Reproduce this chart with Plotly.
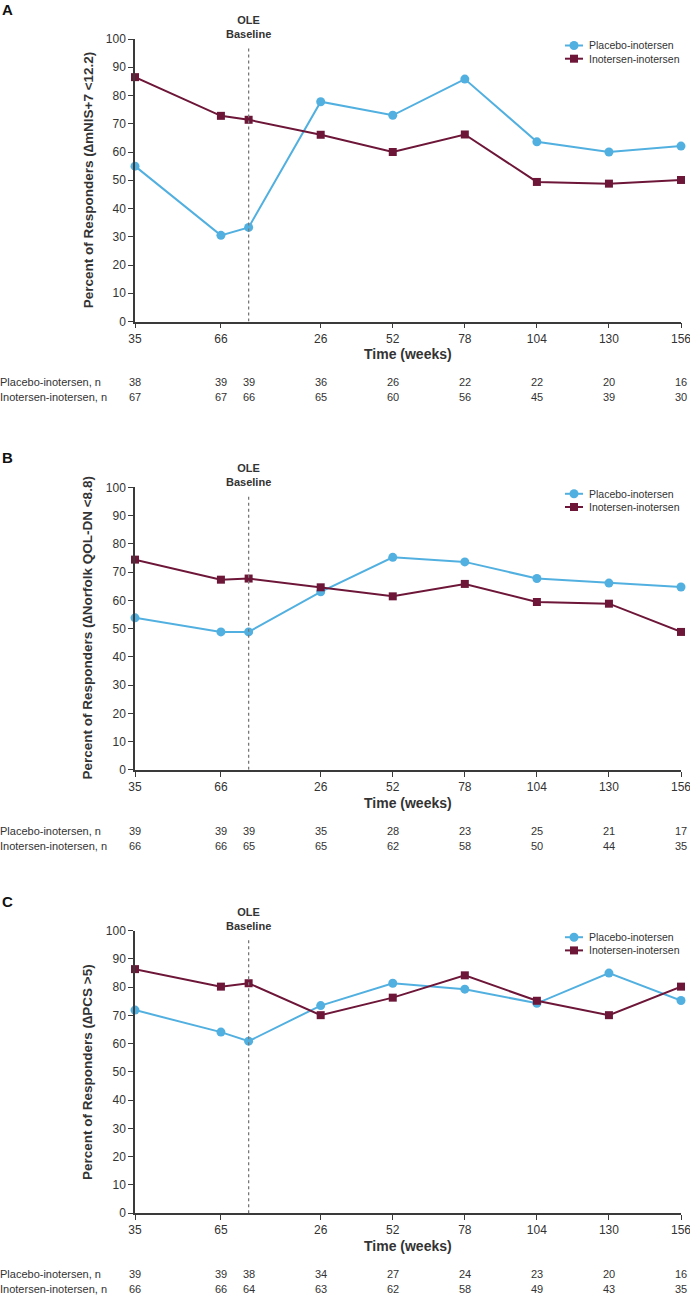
import plotly.graph_objects as go

W, H = 690, 1295
FONT = "Liberation Sans, Arial, sans-serif"
BLUE = "#52B0E0"
MAROON = "#6D1638"
AXIS = "#3a3a3a"
TXT = "#333333"

# ---------------- data ----------------
pivotal_weeks = [35, 66]
ole_weeks = [0, 26, 52, 78, 104, 130, 156]
OLE_OFFSET = 76  # OLE baseline placed after pivotal week 66 on a common time scale
x_time = pivotal_weeks + [OLE_OFFSET + w for w in ole_weeks]

tick_labels_A = ["35", "66", "", "26", "52", "78", "104", "130", "156"]
tick_labels_B = ["35", "66", "", "26", "52", "78", "104", "130", "156"]
tick_labels_C = ["35", "65", "", "26", "52", "78", "104", "130", "156"]

placebo_A = [55.0, 30.5, 33.3, 77.8, 73.0, 85.8, 63.6, 60.0, 62.1]
inotersen_A = [86.5, 72.8, 71.4, 66.1, 60.0, 66.2, 49.4, 48.8, 50.1]
placebo_B = [53.8, 48.8, 48.8, 63.0, 75.2, 73.6, 67.7, 66.1, 64.7]
inotersen_B = [74.4, 67.3, 67.7, 64.6, 61.4, 65.8, 59.4, 58.8, 48.8]
placebo_C = [71.9, 64.1, 60.9, 73.5, 81.4, 79.3, 74.3, 85.0, 75.3]
inotersen_C = [86.4, 80.2, 81.4, 70.1, 76.3, 84.2, 75.2, 70.1, 80.2]

n_placebo_A = [38, 39, 39, 36, 26, 22, 22, 20, 16]
n_inotersen_A = [67, 67, 66, 65, 60, 56, 45, 39, 30]
n_placebo_B = [39, 39, 39, 35, 28, 23, 25, 21, 17]
n_inotersen_B = [66, 66, 65, 65, 62, 58, 50, 44, 35]
n_placebo_C = [39, 39, 38, 34, 27, 24, 23, 20, 16]
n_inotersen_C = [66, 66, 64, 63, 62, 58, 49, 43, 35]

series_names = ["Placebo-inotersen", "Inotersen-inotersen"]
panel_letters = ["A", "B", "C"]
y_titles = [
    "Percent of Responders (∆mNIS+7 &lt;12.2)",
    "Percent of Responders (∆Norfolk QOL-DN &lt;8.8)",
    "Percent of Responders (∆PCS &gt;5)",
]
x_title = "Time (weeks)"
baseline_label = "OLE<br>Baseline"

panels = [
    (tick_labels_A, placebo_A, inotersen_A, n_placebo_A, n_inotersen_A),
    (tick_labels_B, placebo_B, inotersen_B, n_placebo_B, n_inotersen_B),
    (tick_labels_C, placebo_C, inotersen_C, n_placebo_C, n_inotersen_C),
]

# ---------------- layout helpers (page pixels -> paper) ----------------
def px(x):
    return x / W

def py(y):
    return 1 - y / H

PLOT_L, PLOT_R = 135, 681
tops = [39, 487.3, 930.7]
PLOT_H = 282.5

fig = go.Figure()
annotations = []
shapes = []
layout_axes = {}

for i, (ticks, pla, ino, npla, nino) in enumerate(panels):
    k = "" if i == 0 else str(i + 1)
    top = tops[i]
    bot = top + PLOT_H
    xa, ya = "x" + k, "y" + k

    fig.add_trace(go.Scatter(
        x=x_time, y=pla, xaxis=xa, yaxis=ya, mode="lines+markers",
        name=series_names[0], showlegend=False, cliponaxis=False,
        line=dict(color=BLUE, width=2),
        marker=dict(symbol="circle", size=9, color=BLUE),
    ))
    fig.add_trace(go.Scatter(
        x=x_time, y=ino, xaxis=xa, yaxis=ya, mode="lines+markers",
        name=series_names[1], showlegend=False, cliponaxis=False,
        line=dict(color=MAROON, width=2),
        marker=dict(symbol="square", size=8, color=MAROON),
    ))

    tickvals = [x for x, t in zip(x_time, ticks) if t]
    ticktext = [t for t in ticks if t]
    layout_axes["xaxis" + k] = dict(
        domain=[px(PLOT_L), px(PLOT_R)], anchor=ya, range=[x_time[0], x_time[-1]],
        tickvals=tickvals, ticktext=ticktext, showline=True, linecolor=AXIS,
        linewidth=1.5, ticks="outside", ticklen=5, tickwidth=1.2, tickcolor=AXIS,
        showgrid=False, zeroline=False, ticklabeloverflow="allow", automargin=False,
        tickfont=dict(size=12, color=TXT, family=FONT),
    )
    layout_axes["yaxis" + k] = dict(
        domain=[py(bot), py(top)], anchor=xa, range=[0, 100], dtick=10,
        showline=True, linecolor=AXIS, linewidth=1.5, ticks="outside", ticklen=5,
        tickwidth=1.2, tickcolor=AXIS, showgrid=False, zeroline=False, automargin=False,
        tickfont=dict(size=12, color=TXT, family=FONT),
    )

    # OLE baseline dashed line + label
    shapes.append(dict(type="line", xref=xa, yref=ya, x0=x_time[2], x1=x_time[2],
                       y0=0, y1=97, line=dict(color="#777777", width=1.3, dash="3px,3px")))
    annotations.append(dict(xref=xa, yref="paper", x=x_time[2], y=py(top + 3),
                            yanchor="bottom", showarrow=False, text="<b>" + baseline_label + "</b>",
                            font=dict(size=11, color=TXT, family=FONT)))

    # panel letter
    annotations.append(dict(xref="paper", yref="paper", x=px(0), y=py(top - 29.5),
                            xanchor="left", yanchor="middle", showarrow=False,
                            text="<b>" + panel_letters[i] + "</b>",
                            font=dict(size=15, color="#111111", family=FONT)))

    # y-axis title
    annotations.append(dict(xref="paper", yref="paper", x=px(88), y=py(top + PLOT_H / 2),
                            xanchor="center", yanchor="middle", showarrow=False, textangle=-90,
                            text="<b>" + y_titles[i] + "</b>",
                            font=dict(size=13.5, color=TXT, family=FONT)))

    # x-axis title
    annotations.append(dict(xref="paper", yref="paper", x=px((PLOT_L + PLOT_R) / 2),
                            y=py(bot + 33), xanchor="center", yanchor="middle",
                            showarrow=False, text="<b>" + x_title + "</b>",
                            font=dict(size=14, color=TXT, family=FONT)))

    # legend (manual)
    for j, (col, sym) in enumerate([(BLUE, "circle"), (MAROON, "square")]):
        ry = top + 6.5 + 13.2 * j
        shapes.append(dict(type="line", xref="paper", yref="paper", x0=px(565), x1=px(583),
                           y0=py(ry), y1=py(ry), line=dict(color=col, width=2)))
        if sym == "circle":
            shapes.append(dict(type="circle", xref="paper", yref="paper",
                               x0=px(574 - 4.5), x1=px(574 + 4.5),
                               y0=py(ry + 4.5), y1=py(ry - 4.5),
                               fillcolor=col, line=dict(color=col, width=0)))
        else:
            shapes.append(dict(type="rect", xref="paper", yref="paper",
                               x0=px(574 - 4), x1=px(574 + 4),
                               y0=py(ry + 4), y1=py(ry - 4),
                               fillcolor=col, line=dict(color=col, width=0)))
        annotations.append(dict(xref="paper", yref="paper", x=px(587), y=py(ry),
                                xanchor="left", yanchor="middle", showarrow=False,
                                text=series_names[j], font=dict(size=10.5, color=TXT, family=FONT)))

    # numbers at risk
    for j, nums in enumerate([npla, nino]):
        ry = bot + 61 + 15 * j
        annotations.append(dict(xref="paper", yref="paper", x=px(-2), y=py(ry),
                                xanchor="left", yanchor="middle", showarrow=False,
                                text=series_names[j] + ", n",
                                font=dict(size=11, color=TXT, family=FONT)))
        for xv, nv in zip(x_time, nums):
            annotations.append(dict(xref=xa, yref="paper", x=xv, y=py(ry),
                                    xanchor="center", yanchor="middle", showarrow=False,
                                    text=str(nv), font=dict(size=11, color=TXT, family=FONT)))

fig.update_layout(
    width=W, height=H, autosize=False,
    margin=dict(l=0, r=0, t=0, b=0, autoexpand=False),
    paper_bgcolor="white", plot_bgcolor="white",
    font=dict(family=FONT, color=TXT),
    annotations=annotations, shapes=shapes, showlegend=False,
    **layout_axes,
)

# remove the browser's default 8px body margin so the 690x1295 figure fills the window
fig.write_html(
    "out.html",
    config={"displayModeBar": False},
    post_script="document.body.style.margin='0';",
)
